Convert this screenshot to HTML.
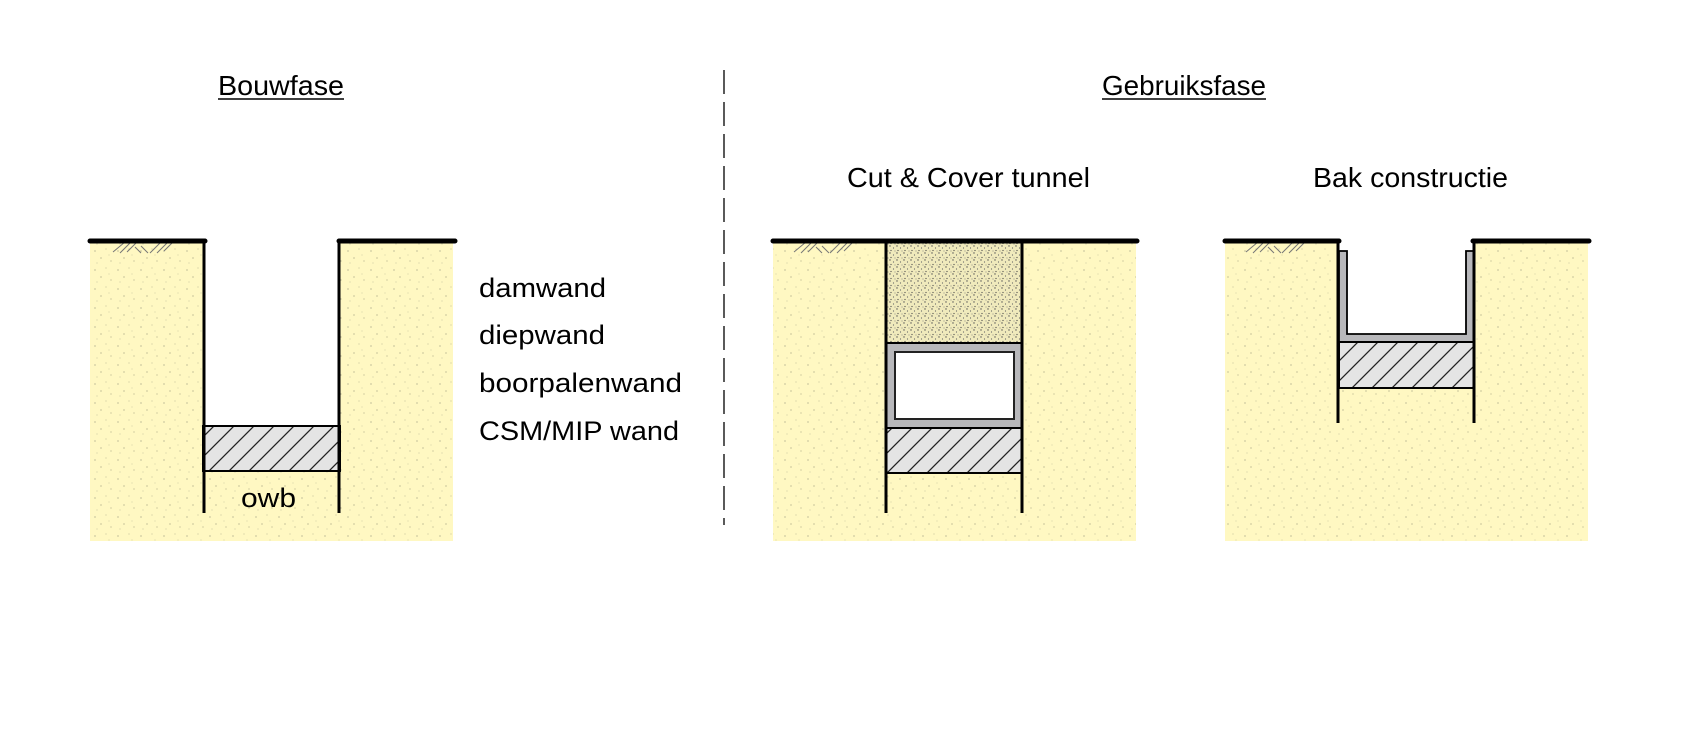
<!DOCTYPE html>
<html><head><meta charset="utf-8"><style>html,body{margin:0;padding:0;background:#fff}svg{display:block}</style></head>
<body>
<svg width="1700" height="738" viewBox="0 0 1700 738" xmlns="http://www.w3.org/2000/svg" font-family="'Liberation Sans', sans-serif">
<defs>
<pattern id="sand" width="23" height="19" patternUnits="userSpaceOnUse">
<rect width="23" height="19" fill="#fff8c2"/>
<circle cx="3" cy="4" r="0.6" fill="#9a9a80"/><circle cx="14" cy="2" r="0.5" fill="#b0b090"/>
<circle cx="9" cy="11" r="0.6" fill="#a0a080"/><circle cx="19" cy="14" r="0.5" fill="#909070"/>
<circle cx="5" cy="16" r="0.5" fill="#b8b898"/><circle cx="17" cy="8" r="0.4" fill="#a0a080"/>
</pattern>
<pattern id="fill" width="7" height="7" patternUnits="userSpaceOnUse">
<rect width="7" height="7" fill="#f0eabc"/>
<circle cx="1" cy="1" r="0.7" fill="#555"/><circle cx="4.5" cy="3" r="0.6" fill="#666"/>
<circle cx="2" cy="5.5" r="0.6" fill="#444"/><circle cx="6" cy="6" r="0.5" fill="#777"/>
</pattern>
<pattern id="hatch" width="20" height="20" patternUnits="userSpaceOnUse">
<rect width="20" height="20" fill="#e4e4e4"/>
<path d="M-5 25 L25 -5 M-5 5 L5 -5 M15 25 L25 15" stroke="#222" stroke-width="1.3"/>
</pattern>
</defs>

<!-- Titles -->
<text x="218" y="95" font-size="28" textLength="126" lengthAdjust="spacingAndGlyphs">Bouwfase</text>
<line x1="218" y1="99" x2="344" y2="99" stroke="#000" stroke-width="1.5"/>
<text x="1102" y="95" font-size="28" textLength="164" lengthAdjust="spacingAndGlyphs">Gebruiksfase</text>
<line x1="1102" y1="99" x2="1266" y2="99" stroke="#000" stroke-width="1.5"/>
<text x="847" y="187" font-size="28" textLength="243" lengthAdjust="spacingAndGlyphs">Cut &amp; Cover tunnel</text>
<text x="1313" y="187" font-size="28" textLength="195" lengthAdjust="spacingAndGlyphs">Bak constructie</text>

<text x="479" y="297" font-size="27" textLength="127" lengthAdjust="spacingAndGlyphs">damwand</text>
<text x="479" y="344" font-size="27" textLength="126" lengthAdjust="spacingAndGlyphs">diepwand</text>
<text x="479" y="392" font-size="27" textLength="203" lengthAdjust="spacingAndGlyphs">boorpalenwand</text>
<text x="479" y="440" font-size="27" textLength="200" lengthAdjust="spacingAndGlyphs">CSM/MIP wand</text>

<!-- dashed divider -->
<line x1="724" y1="70" x2="724" y2="525" stroke="#000" stroke-width="1.3" stroke-dasharray="24,8"/>

<!-- Panel 1 -->
<rect x="90" y="241" width="363" height="300" fill="url(#sand)"/>
<rect x="203" y="241" width="137" height="185" fill="#fff"/>
<rect x="203" y="426" width="137" height="45" fill="url(#hatch)" stroke="#000" stroke-width="2"/>
<text x="241" y="507" font-size="27" textLength="55" lengthAdjust="spacingAndGlyphs">owb</text>
<path d="M113 252 l12 -10 M120 253 l11 -11 M127 252 l10 -10 M135 247 l6 6 M141 246 l7 7 M150 253 l11 -11 M157 253 l10 -10 M164 251 l8 -8" stroke="#777" stroke-width="1"/>
<line x1="90" y1="241" x2="205" y2="241" stroke="#000" stroke-width="5" stroke-linecap="round"/>
<line x1="339" y1="241" x2="455" y2="241" stroke="#000" stroke-width="5" stroke-linecap="round"/>
<line x1="204" y1="241" x2="204" y2="513" stroke="#000" stroke-width="3"/>
<line x1="339" y1="241" x2="339" y2="513" stroke="#000" stroke-width="3"/>

<!-- Panel 2 -->
<rect x="773" y="241" width="363" height="300" fill="url(#sand)"/>
<rect x="886" y="243" width="136" height="99" fill="url(#fill)"/>
<rect x="886" y="343" width="136" height="85" fill="#b8b8bb" stroke="#000" stroke-width="2"/>
<rect x="895" y="352" width="119" height="67" fill="#fff" stroke="#222" stroke-width="2"/>
<rect x="886" y="428" width="136" height="45" fill="url(#hatch)" stroke="#000" stroke-width="2"/>
<path d="M794 252 l12 -10 M801 253 l11 -11 M808 252 l10 -10 M816 247 l6 6 M822 246 l7 7 M830 253 l11 -11 M837 253 l10 -10 M844 251 l8 -8" stroke="#777" stroke-width="1"/>
<line x1="773" y1="241" x2="1137" y2="241" stroke="#000" stroke-width="5" stroke-linecap="round"/>
<line x1="886" y1="241" x2="886" y2="513" stroke="#000" stroke-width="3"/>
<line x1="1022" y1="241" x2="1022" y2="513" stroke="#000" stroke-width="3"/>

<!-- Panel 3 -->
<rect x="1225" y="241" width="363" height="300" fill="url(#sand)"/>
<rect x="1338" y="241" width="136" height="101" fill="#fff"/>
<path d="M1339 251 H1347 V334 H1466 V251 H1474 V342 H1339 Z" fill="#b8b8bb" stroke="#000" stroke-width="1.8"/>
<rect x="1339" y="342" width="135" height="46" fill="url(#hatch)" stroke="#000" stroke-width="2"/>
<path d="M1246 252 l12 -10 M1253 253 l11 -11 M1260 252 l10 -10 M1268 247 l6 6 M1274 246 l7 7 M1282 253 l11 -11 M1289 253 l10 -10 M1296 251 l8 -8" stroke="#777" stroke-width="1"/>
<line x1="1225" y1="241" x2="1339" y2="241" stroke="#000" stroke-width="5" stroke-linecap="round"/>
<line x1="1473" y1="241" x2="1589" y2="241" stroke="#000" stroke-width="5" stroke-linecap="round"/>
<line x1="1338" y1="241" x2="1338" y2="423" stroke="#000" stroke-width="3"/>
<line x1="1474" y1="241" x2="1474" y2="423" stroke="#000" stroke-width="3"/>
</svg>
</body></html>
